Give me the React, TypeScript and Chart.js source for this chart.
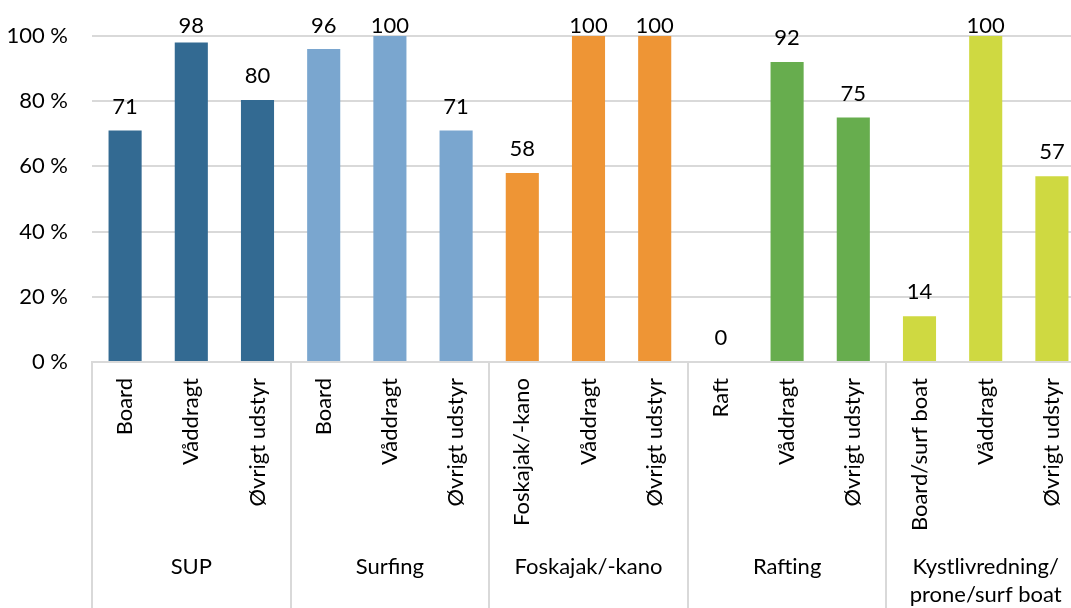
import React, { useEffect, useRef } from "react";
import { Chart, registerables } from "chart.js";

Chart.register(...registerables);

const categories = [
  "Board", "Våddragt", "Øvrigt udstyr",
  "Board", "Våddragt", "Øvrigt udstyr",
  "Foskajak/-kano", "Våddragt", "Øvrigt udstyr",
  "Raft", "Våddragt", "Øvrigt udstyr",
  "Board/surf boat", "Våddragt", "Øvrigt udstyr",
];
const groupLabels: string[][] = [
  ["SUP"],
  ["Surfing"],
  ["Foskajak/-kano"],
  ["Rafting"],
  ["Kystlivredning/", "prone/surf boat"],
];
const groupSizes = [3, 3, 3, 3, 3];
const groupColors = ["#336A92", "#7AA6CF", "#EE9535", "#67AD4E", "#CFD941"];
const values = [71, 98, 80.4, 96, 100, 71, 58, 100, 100, 0, 92, 75, 14, 100, 57];
const yTicks = [0, 20, 40, 60, 80, 100];

const FONT = "Lato, 'Open Sans', sans-serif";
const FONT_SIZE = 22;
const GRID = "#D9D9D9";

const barColors: string[] = [];
groupSizes.forEach((n, gi) => {
  for (let i = 0; i < n; i++) barColors.push(groupColors[gi]);
});

const overlayPlugin = {
  id: "overlay",
  afterDraw(chart: any) {
    const ctx = chart.ctx;
    const meta = chart.getDatasetMeta(0);
    const xs = chart.scales.x;
    const area = chart.chartArea;
    ctx.save();
    // data labels
    ctx.font = `${FONT_SIZE}px ${FONT}`;
    ctx.fillStyle = "#000";
    ctx.textAlign = "center";
    ctx.textBaseline = "alphabetic";
    meta.data.forEach((bar: any, i: number) => {
      const y = Math.max(bar.y - 17, 33);
      ctx.fillText(String(Math.round(values[i])), bar.x, y);
    });
    // group separators and labels
    const half = (xs.getPixelForValue(1) - xs.getPixelForValue(0)) / 2;
    ctx.strokeStyle = GRID;
    ctx.lineWidth = 2;
    let idx = 0;
    const bottom = chart.height;
    for (let g = 0; g <= groupSizes.length; g++) {
      const x = xs.getPixelForValue(idx) - half;
      ctx.beginPath();
      ctx.moveTo(Math.round(x), area.bottom);
      ctx.lineTo(Math.round(x), bottom);
      ctx.stroke();
      if (g < groupSizes.length) {
        const start = idx;
        const end = idx + groupSizes[g] - 1;
        const cx = (xs.getPixelForValue(start) + xs.getPixelForValue(end)) / 2;
        ctx.textBaseline = "middle";
        groupLabels[g].forEach((line, li) => {
          ctx.fillText(line, cx, 567 + li * 28);
        });
        idx += groupSizes[g];
      }
    }
    ctx.restore();
  },
};

export default function App() {
  const ref = useRef<HTMLCanvasElement>(null);
  useEffect(() => {
    if (!ref.current) return;
    const chart = new Chart(ref.current, {
      type: "bar",
      data: {
        labels: categories,
        datasets: [
          {
            data: values,
            backgroundColor: barColors,
            barPercentage: 0.5,
            categoryPercentage: 1.0,
          },
        ],
      },
      options: {
        animation: false,
        responsive: true,
        maintainAspectRatio: false,
        layout: { padding: { top: 36, right: 5, left: 0, bottom: 0 } },
        plugins: {
          legend: { display: false },
          tooltip: { enabled: false },
        },
        scales: {
          x: {
            grid: { display: false, drawTicks: false },
            border: { display: true, color: GRID, width: 2 },
            ticks: {
              autoSkip: false,
              maxRotation: 90,
              minRotation: 90,
              padding: 16,
              color: "#000",
              font: { family: FONT, size: FONT_SIZE },
            },
            afterFit: (s: any) => {
              s.height = 246;
              s.paddingLeft = 0;
              s.paddingRight = 0;
            },
          },
          y: {
            min: 0,
            max: 100,
            afterBuildTicks: (s: any) => {
              s.ticks = yTicks.map((v) => ({ value: v }));
            },
            grid: { color: GRID, lineWidth: 2, drawTicks: false },
            border: { display: false },
            ticks: {
              padding: 24,
              color: "#000",
              font: { family: FONT, size: FONT_SIZE },
              callback: (v: any) => `${v} %`,
            },
            afterFit: (s: any) => {
              s.width = 92;
              s.paddingTop = 0;
              s.paddingBottom = 0;
            },
          },
        },
      },
      plugins: [overlayPlugin],
    });
    return () => chart.destroy();
  }, []);

  return (
    <div
      style={{
        position: "fixed",
        left: 0,
        top: 0,
        width: 1071,
        height: 608,
        overflow: "hidden",
        background: "#fff",
      }}
    >
      <div style={{ position: "relative", width: 1090, height: 608 }}>
        <canvas ref={ref} />
      </div>
    </div>
  );
}
